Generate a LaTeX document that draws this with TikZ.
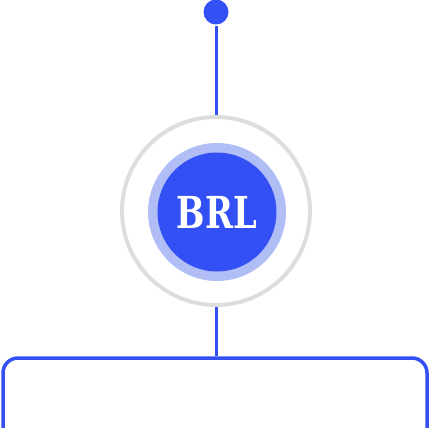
\documentclass[tikz,border=0pt]{standalone}
\usepackage{fontspec}
\usepackage{tikz}
\usetikzlibrary{positioning}
\newfontfamily\brlfont{DejaVu Serif Condensed}
\definecolor{blue1}{HTML}{3350F5}
\definecolor{blue2}{HTML}{B1BEF6}
\definecolor{gray1}{HTML}{DDDDDD}

\begin{document}
\begin{tikzpicture}[x=1pt,y=-1pt,line width=3pt]
  \tikzstyle{every node}=[circle,inner sep=0pt]
  \useasboundingbox (0,0) rectangle (431,428);
  \node[fill=blue1,minimum size=25pt]                       (dot) at (216, 12) {};
  \node[draw=gray1,line width=4pt,minimum size=188pt]       (outer) at (216, 211) {};
  \node[fill=blue2,minimum size=138pt]                      (ring) at (217, 212) {};
  \node[fill=blue1,minimum size=119pt,text=white,
        font=\brlfont\bfseries\fontsize{44}{44}\selectfont] (core) at (217, 212) {\scalebox{0.85}[1]{BRL}};
  \node[rectangle,draw=blue1,line width=3.5pt,rounded corners=15pt,
        minimum width=424pt,minimum height=200pt]           (box) at (215, 458) {};
  \path[draw=blue1] (dot) -- (outer);
  \path[draw=blue1] (outer) -- (outer |- box.north);
\end{tikzpicture}
\end{document}
